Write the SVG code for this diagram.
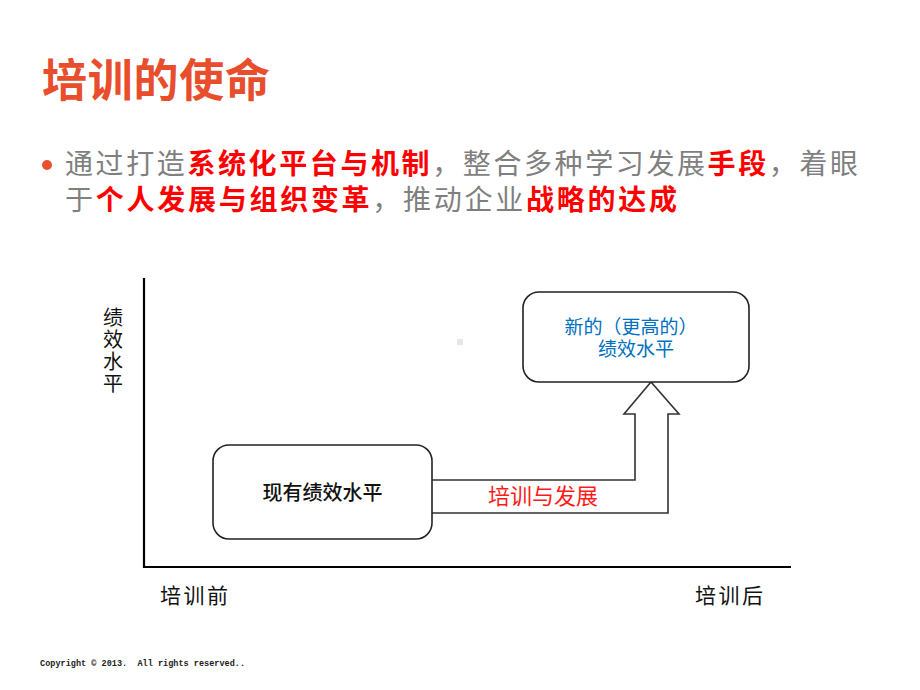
<svg xmlns="http://www.w3.org/2000/svg" width="920" height="690" viewBox="0 0 920 690">
<style>
.cjk{font-family:"Noto Sans CJK SC","Liberation Sans",sans-serif}
.box{fill:#fff;stroke:#222;stroke-width:1.6}
.axis{stroke:#000;stroke-width:2.2;fill:none}
.gray{fill:#7f7f7f}
.red{fill:#ff0000;font-weight:bold}
.lbl{font-size:21px;fill:#111}
</style>
<rect width="920" height="690" fill="#fff"/>
<text x="42" y="97" class="cjk" font-size="45" font-weight="bold" fill="#e84e2c" textLength="228" lengthAdjust="spacing">培训的使命</text>
<circle cx="47" cy="165" r="5" fill="#e8502f"/>
<text x="65" y="174" class="cjk" font-size="28" textLength="793" lengthAdjust="spacing"><tspan class="gray">通过打造</tspan><tspan class="red">系统化平台与机制</tspan><tspan class="gray">，整合多种学习发展</tspan><tspan class="red">手段</tspan><tspan class="gray">，着眼</tspan></text>
<text x="65" y="210" class="cjk" font-size="28" textLength="612" lengthAdjust="spacing"><tspan class="gray">于</tspan><tspan class="red">个人发展与组织变革</tspan><tspan class="gray">，推动企业</tspan><tspan class="red">战略的达成</tspan></text>
<rect x="457" y="339" width="6" height="6" fill="#e6e6e6"/>
<g id="axes">
<polyline class="axis" points="144,278 144,567 791,567"/>
</g>
<g id="ylabel">
<text x="113" y="307" class="cjk" font-size="20" fill="#111" writing-mode="tb" letter-spacing="2">绩效水平</text>
</g>
<text x="160" y="603" class="cjk lbl" textLength="68">培训前</text>
<text x="695" y="603" class="cjk lbl" textLength="68">培训后</text>
<g id="connectors">
<path d="M432,480 H635 V414 H624 L651,382 L679,414 H668 V513 H432" fill="#fff" stroke="#333" stroke-width="1.6"/>
<text x="543" y="504" class="cjk" font-size="22" fill="#ff1a1a" text-anchor="middle">培训与发展</text>
</g>
<g id="node-current">
<rect class="box" x="213" y="445" width="219" height="94" rx="16"/>
<text x="322.5" y="500" class="cjk" font-size="20" font-weight="500" fill="#111" text-anchor="middle">现有绩效水平</text>
</g>
<g id="node-new">
<rect class="box" x="523" y="292" width="226" height="90" rx="16"/>
<text x="631" y="334" class="cjk" font-size="19" fill="#0070c0" text-anchor="middle">新的（更高的）</text>
<text x="636" y="356" class="cjk" font-size="19" fill="#0070c0" text-anchor="middle">绩效水平</text>
</g>
<text x="40" y="666" font-family="Liberation Mono, monospace" font-size="8.5" font-weight="bold" fill="#222" textLength="205" style="white-space:pre">Copyright © 2013.  All rights reserved..</text>
</svg>
